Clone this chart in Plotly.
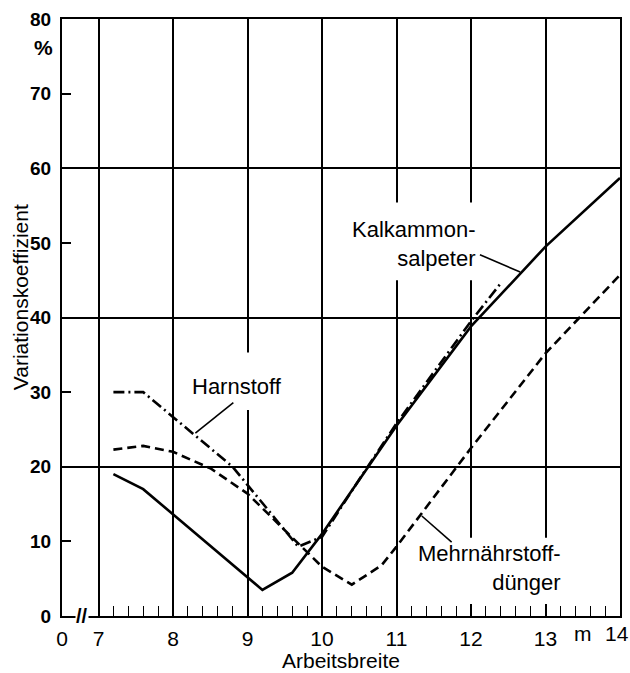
import plotly.graph_objects as go
import numpy as np

# ---- data ----
x_kalk = [7.2, 7.6, 9.2, 9.6, 10.0, 11.0, 12.0, 13.0, 14.0]
y_kalk = [19.0, 17.0, 3.5, 5.8, 11.0, 25.5, 38.8, 49.5, 58.7]

x_harn = [7.2, 7.6, 8.8, 9.68, 10.0, 10.5, 11.0, 12.0, 12.4]
y_harn = [30.0, 30.0, 20.0, 9.3, 10.6, 18.3, 25.8, 39.5, 44.6]

x_mehr = [7.2, 7.6, 8.0, 8.5, 9.0, 9.45, 10.0, 10.4, 10.8, 11.0, 12.0, 13.0, 14.0]
y_mehr = [22.3, 22.8, 22.0, 19.8, 16.4, 12.0, 6.6, 4.2, 6.8, 9.3, 22.5, 35.2, 45.7]

x_tickvals = [6.51, 7, 8, 9, 10, 11, 12, 13]
x_ticktext = ["0", "7", "8", "9", "10", "11", "12", "13"]
y_tickvals = [0, 10, 20, 30, 40, 50, 60, 70, 80]
y_gridvals = [20, 40, 60]
x_minor = [round(v, 1) for v in np.arange(7.0, 13.99, 0.2)]

FONT = "Liberation Sans"
LW = 2.6

fig = go.Figure()
fig.add_trace(go.Scatter(x=x_kalk, y=y_kalk, mode="lines",
                         line=dict(color="black", width=LW), hoverinfo="skip"))
fig.add_trace(go.Scatter(x=x_harn, y=y_harn, mode="lines",
                         line=dict(color="black", width=LW, dash="11px,4px,2px,4px"),
                         hoverinfo="skip"))
fig.add_trace(go.Scatter(x=x_mehr, y=y_mehr, mode="lines",
                         line=dict(color="black", width=LW, dash="9px,5px"),
                         hoverinfo="skip"))

# white boxes behind labels (cover gridlines only)
for x0, x1, y0, y1 in [(8.2, 9.5, 27.6, 35.3), (10.38, 12.25, 45.0, 55.4), (11.18, 13.46, 1.6, 10.5)]:
    fig.add_shape(type="rect", xref="x", yref="y", x0=x0, x1=x1, y0=y0, y1=y1,
                  fillcolor="white", line=dict(width=0), layer="between")

# leader lines
for x0, y0, x1, y1 in [(8.30, 24.5, 8.81, 28.6), (12.12, 48.4, 12.66, 46.1), (11.34, 13.4, 11.74, 9.9)]:
    fig.add_shape(type="line", xref="x", yref="y", x0=x0, y0=y0, x1=x1, y1=y1,
                  line=dict(color="black", width=1.6), layer="above")

lab = dict(family=FONT, size=22, color="black")
fig.add_annotation(x=8.86, y=30.8, xref="x", yref="y", text="Harnstoff",
                   showarrow=False, font=lab, xanchor="center", yanchor="middle")
fig.add_annotation(x=12.08, y=49.9, xref="x", yref="y", text="Kalkammon-<br>salpeter",
                   showarrow=False, font=lab, xanchor="right", yanchor="middle", align="right")
fig.add_annotation(x=13.23, y=6.4, xref="x", yref="y", text="Mehrnährstoff-<br>dünger",
                   showarrow=False, font=lab, xanchor="right", yanchor="middle", align="right")

# axis extras
tick_font = dict(family=FONT, size=21, color="black")
fig.add_annotation(x=14, y=0, xref="x", yref="paper", yshift=-17, xshift=-3, text="14",
                   showarrow=False, xanchor="center", yanchor="middle", font=tick_font)
fig.add_annotation(x=6.78, y=0, xref="x", yref="y", text="<b>//</b>", showarrow=False,
                   font=dict(family=FONT, size=20, color="black"), bgcolor="white",
                   borderpad=0, xanchor="center", yanchor="middle")
fig.add_annotation(x=-0.034, y=0.953, xref="paper", yref="paper", text="<b>%</b>",
                   showarrow=False, xanchor="center", yanchor="middle",
                   font=dict(family=FONT, size=21, color="black"))
fig.add_annotation(x=13.5, y=0, xref="x", yref="paper", yshift=-17, text="m",
                   showarrow=False, xanchor="center", yanchor="middle", font=tick_font)
fig.add_annotation(x=0.5, y=0, xref="paper", yref="paper", yshift=-44,
                   text="Arbeitsbreite", showarrow=False, xanchor="center", yanchor="middle",
                   font=dict(family=FONT, size=21, color="black"))
fig.add_annotation(x=-0.0753, y=0.534, xref="paper", yref="paper",
                   text="Variationskoeffizient", showarrow=False, textangle=-90,
                   xanchor="center", yanchor="middle",
                   font=dict(family=FONT, size=21, color="black"))

fig.update_layout(
    width=630, height=673,
    margin=dict(l=62, r=10, t=19, b=57, autoexpand=False),
    paper_bgcolor="white", plot_bgcolor="white",
    showlegend=False,
    xaxis=dict(range=[6.51, 14], tickmode="array", tickvals=x_tickvals, ticktext=x_ticktext,
               showgrid=True, gridcolor="black", gridwidth=1.6, automargin=False,
               showline=True, linecolor="black", linewidth=2.2, mirror=True,
               ticks="", zeroline=False, ticklabelstandoff=3, ticklabeloverflow="allow",
               tickfont=tick_font,
               minor=dict(tickmode="array", tickvals=x_minor, ticks="inside",
                          ticklen=10, tickwidth=1.4, tickcolor="black", showgrid=False)),
    yaxis=dict(range=[0, 80], tickmode="array", tickvals=y_tickvals,
               showgrid=False, zeroline=False, automargin=False,
               showline=True, linecolor="black", linewidth=2.2, mirror=True,
               ticks="inside", ticklen=9, tickwidth=1.6, tickcolor="black",
               ticklabelstandoff=5, ticklabeloverflow="allow",
               tickfont=dict(family=FONT, size=19, color="black", weight="bold"),
               minor=dict(tickmode="array", tickvals=y_gridvals, ticks="",
                          showgrid=True, gridcolor="black", gridwidth=1.6)),
)

fig.write_html("out.html")
